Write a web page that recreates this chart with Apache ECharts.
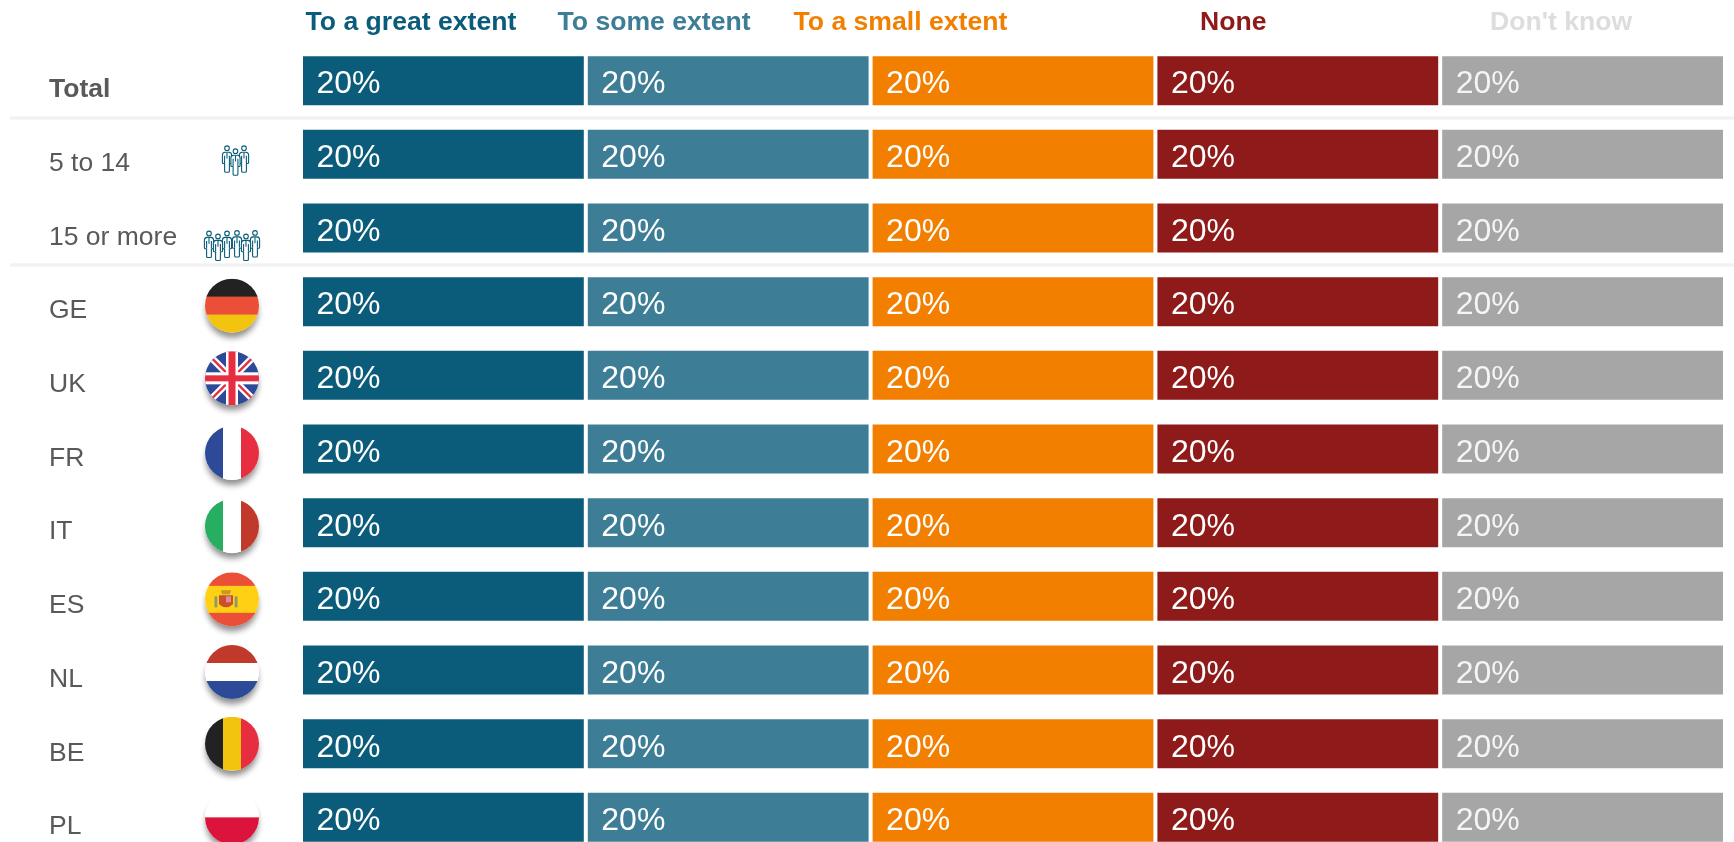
<!DOCTYPE html>
<html><head><meta charset="utf-8">
<style>html,body{margin:0;padding:0;background:#fff;overflow:hidden}#c{width:1734px;height:842px}</style>
<script src="https://cdn.jsdelivr.net/npm/echarts@6/dist/echarts.min.js"></script>
</head><body><div id="c"></div>
<script>
const categories = ['Total','5 to 14','15 or more','GE','UK','FR','IT','ES','NL','BE','PL'];
const seriesNames = ['To a great extent','To some extent','To a small extent','None',"Don't know"];
const greatExtent = [20,20,20,20,20,20,20,20,20,20,20];
const someExtent  = [20,20,20,20,20,20,20,20,20,20,20];
const smallExtent = [20,20,20,20,20,20,20,20,20,20,20];
const noneValues  = [20,20,20,20,20,20,20,20,20,20,20];
const dontKnow    = [20,20,20,20,20,20,20,20,20,20,20];
const seriesValues = [greatExtent, someExtent, smallExtent, noneValues, dontKnow];
const barColors = ['#0B5C7A','#3E7D96','#F27F00','#8F1A1A','#A6A6A6'];
const headerColors = ['#0B5C7A','#3E7D96','#F27F00','#8F1A1A','#DDDDDD'];
const headerLeft = [304.5,556.5,792.5,1199,1489];
const FONT = '"Liberation Sans", Arial, sans-serif';

// ----- decorative flags and people icons (inline SVG) -----
const C = {k:'#222222',r:'#EB4F38',g:'#F2C40F',b:'#2D4A99',e:'#E62E40',w:'#FFFFFF',n:'#27AE60',t:'#C0392B',y:'#FFD014',p:'#DC143C'};
const hStripes = (list) => { let y=13,s=''; list.forEach(([c,f])=>{const h=54*f; s+=`<rect x="13" y="${y}" width="54" height="${h+0.3}" fill="${c}"/>`; y+=h;}); return s; };
const vStripes = (list) => { let x=13,s=''; list.forEach(c=>{s+=`<rect x="${x}" y="13" width="18.3" height="54" fill="${c}"/>`; x+=18;}); return s; };
const unionJack = `<rect x="13" y="13" width="54" height="54" fill="${C.b}"/>
<path d="M13 13L67 67M67 13L13 67" stroke="#fff" stroke-width="7"/>
<path d="M13 13L67 67M67 13L13 67" stroke="${C.e}" stroke-width="2.4"/>
<rect x="34" y="13" width="12" height="54" fill="#fff"/><rect x="13" y="34" width="54" height="12" fill="#fff"/>
<rect x="36.5" y="13" width="7" height="54" fill="${C.e}"/><rect x="13" y="37" width="54" height="6" fill="${C.e}"/>`;
const spain = hStripes([[C.r,.25],[C.y,.5],[C.r,.25]]) + `<g transform="translate(-6 1)">
<rect x="28.5" y="36" width="2.8" height="11" fill="#8C9A6A"/><rect x="48.7" y="36" width="2.8" height="11" fill="#8C9A6A"/>
<path d="M33 35h14v9q-7 6-14 0z" fill="#C8502A"/><rect x="40" y="36" width="5" height="6" fill="#D98C9C"/>
<path d="M35 30h10l-1 4h-8z" fill="#C9962A"/></g>`;
const flagBodies = {
  GE: hStripes([[C.k,1/3],[C.r,1/3],[C.g,1/3]]),
  UK: unionJack,
  FR: vStripes([C.b,C.w,C.e]),
  IT: vStripes([C.n,C.w,C.t]),
  ES: spain,
  NL: hStripes([[C.t,1/3],[C.w,1/3],[C.b,1/3]]),
  BE: vStripes([C.k,C.g,C.e]),
  PL: hStripes([[C.w,.5],[C.p,.5]])
};
const flagOffsetY = {GE:4,UK:3,FR:4,IT:3.5,ES:3,NL:2,BE:0,PL:0};
const svgUri = (vb,body) => 'image://data:image/svg+xml;charset=utf-8,' + encodeURIComponent(
  `<svg xmlns="http://www.w3.org/2000/svg" width="${vb}" height="${vb}" viewBox="0 0 ${vb} ${vb}">${body}</svg>`);
const flagSvg = (id) => svgUri(80,`<defs><filter id="f" x="-30%" y="-30%" width="160%" height="160%"><feGaussianBlur stdDeviation="3.4"/></filter>
<clipPath id="o"><circle cx="40" cy="40" r="27"/></clipPath></defs>
<circle cx="40" cy="46" r="26" fill="#000" opacity=".45" filter="url(#f)"/>
<circle cx="40" cy="40" r="27" fill="#fff"/><g clip-path="url(#o)">${flagBodies[id]}</g>`);
const person = (x,y) => `<g transform="translate(${x} ${y})" fill="#fff" stroke="#0B5C7A" stroke-width="1.1" stroke-linejoin="round">
<circle cx="0" cy="2.4" r="2.3"/>
<path d="M-4.6 9.3q0-2.6 2.6-2.9h4q2.6.3 2.6 2.9v7.4q0 1-.9 1h-1.3v7.8q0 1-1.2 1h-2.4q-1.2 0-1.2-1v-7.8h-1.3q-.9 0-.9-1z"/>
<path d="M-2.4 10v7.2M2.4 10v7.2M0 6.8v6"/></g>`;
const iconSmall = svgUri(60, person(21.5,15)+person(38.5,15)+person(30,18));
const iconLarge = svgUri(60, person(7,16)+person(25,16)+person(35,15.5)+person(53,15.5)+person(16,19)+person(44,19));

// ----- scatter rows for the icon column -----
const iconData = [
  {value:[0.5,'5 to 14'], symbol:iconSmall, symbolSize:60, symbolOffset:[3.5,6.5]},
  {value:[0.5,'15 or more'], symbol:iconLarge, symbolSize:60, symbolOffset:[0,17]}
].concat(Object.keys(flagBodies).map(id => ({
  value:[0.5,id], symbol:flagSvg(id), symbolSize:80, symbolOffset:[0,flagOffsetY[id]]
})));

const gridTop = 43.8, gridHeight = 810.4;
const chart = echarts.init(document.getElementById('c'), null, {renderer:'canvas'});
chart.setOption({
  animation:false,
  backgroundColor:'#fff',
  textStyle:{fontFamily:FONT},
  legend: seriesNames.map((n,i)=>({
    data:[n], left:headerLeft[i], top:9, padding:0, itemWidth:0, itemHeight:0, itemGap:0, icon:'rect',
    selectedMode:false,
    textStyle:{color:headerColors[i], fontSize:26.6, fontWeight:'bold', fontFamily:FONT, padding:[0,0,0,-5]}
  })),
  grid:[
    {left:301, top:gridTop, width:1424, height:gridHeight, outerBoundsMode:'none'},
    {left:202, top:gridTop, width:60, height:gridHeight, outerBoundsMode:'none'},
    {left:10, top:gridTop, width:1724, height:gridHeight, outerBoundsMode:'none'}
  ],
  xAxis:[
    {gridIndex:0, type:'value', min:0, max:100, show:false},
    {gridIndex:1, type:'value', min:0, max:1, show:false},
    {gridIndex:2, type:'value', min:0, max:1, show:false}
  ],
  yAxis:[
    {gridIndex:0, type:'category', inverse:true, data:categories,
     axisLine:{show:false}, axisTick:{show:false}, splitLine:{show:false},
     axisLabel:{align:'left', margin:252, fontSize:26.5, color:'#595959', fontFamily:FONT, padding:[19,0,0,0],
       formatter:(v)=> v==='Total' ? `{b|${v}}` : v,
       rich:{b:{fontWeight:'bold', fontSize:26.5, color:'#595959', fontFamily:FONT}}}},
    {gridIndex:1, type:'category', inverse:true, data:categories, show:false},
    {gridIndex:2, type:'category', inverse:true, data:categories,
     axisLine:{show:false}, axisTick:{show:false}, axisLabel:{show:false},
     splitLine:{show:true, interval:(i)=> i===1||i===3, lineStyle:{color:'#F2F2F2', width:3.5}}}
  ],
  series: seriesNames.map((n,i)=>({
    name:n, type:'bar', stack:'all', xAxisIndex:0, yAxisIndex:0, z:3,
    data:seriesValues[i], barWidth:53,
    itemStyle:{color:barColors[i], borderColor:'#fff', borderWidth:2},
    label:{show:true, position:'insideLeft', distance:15.5, offset:[0,4], formatter:'{c}%', color:i===4?'#F5F5F5':'#fff', fontSize:32, fontFamily:FONT}
  })).concat([{
    type:'scatter', xAxisIndex:1, yAxisIndex:1, z:4, silent:true, clip:false, data:iconData,
    itemStyle:{opacity:1}
  }])
});
</script></body></html>
